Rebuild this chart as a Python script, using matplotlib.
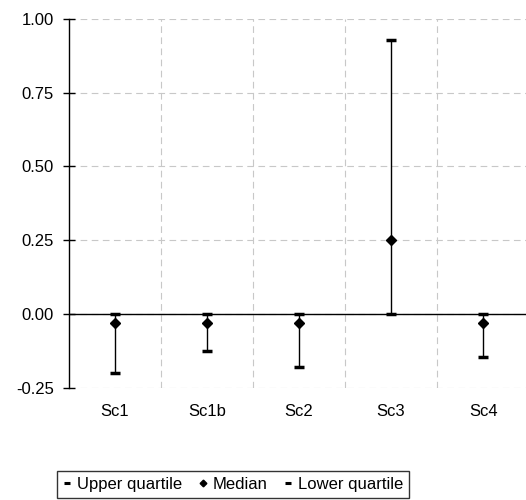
import numpy as np
import matplotlib.pyplot as plt
from matplotlib.lines import Line2D
from matplotlib.ticker import FixedLocator

plt.rcParams['font.family'] = ['Liberation Sans', 'DejaVu Sans']

scenarios = ['Sc1', 'Sc1b', 'Sc2', 'Sc3', 'Sc4']
upper_q = [0.00, 0.00, 0.00, 0.93, 0.00]
median = [-0.03, -0.03, -0.03, 0.25, -0.03]
lower_q = [-0.20, -0.125, -0.18, 0.00, -0.145]

x = np.arange(len(scenarios))

fig = plt.figure(figsize=(5.26, 5.0), dpi=100)
ax = fig.add_axes([0.131, 0.2246, 0.875, 0.7374])

# grid first so it sits under the marks
ax.set_axisbelow(True)
ax.yaxis.grid(True, color='#c8c8c8', linestyle=(0, (6, 4)), linewidth=0.8)
ax.xaxis.set_minor_locator(FixedLocator(x[:-1] + 0.5))
ax.xaxis.grid(True, which='minor', color='#c8c8c8', linestyle=(0, (6, 4)), linewidth=0.8)

# zero line acts as the category axis
ax.axhline(0, color='black', linewidth=1.0, zorder=2)

ax.vlines(x, lower_q, upper_q, color='black', linewidth=1.0, zorder=3)
ax.plot(x, upper_q, linestyle='none', marker='_', markersize=7.5, mew=2.5,
        color='black', zorder=4)
ax.plot(x, median, linestyle='none', marker='D', markersize=5.2,
        color='black', zorder=5)
ax.plot(x, lower_q, linestyle='none', marker='_', markersize=7.5, mew=2.5,
        color='black', zorder=4)

ax.set_xlim(-0.5, 4.5)
ax.set_ylim(-0.25, 1.0)
ax.set_yticks([-0.25, 0.0, 0.25, 0.5, 0.75, 1.0])
ax.set_yticklabels(['%.2f' % v for v in [-0.25, 0.0, 0.25, 0.5, 0.75, 1.0]])
ax.set_xticks(x)
ax.set_xticklabels(scenarios)

ax.tick_params(axis='y', direction='inout', length=8, width=1, labelsize=12, pad=7)
ax.tick_params(axis='x', which='both', length=0, labelsize=12, pad=12)

for side in ['top', 'right', 'bottom']:
    ax.spines[side].set_visible(False)
ax.spines['left'].set_linewidth(1.0)

# smaller markers in the legend, like the original
handles = [
    Line2D([], [], linestyle='none', marker='_', markersize=5, mew=2.2, color='black'),
    Line2D([], [], linestyle='none', marker='D', markersize=3.4, color='black'),
    Line2D([], [], linestyle='none', marker='_', markersize=5, mew=2.2, color='black'),
]
labels = ['Upper quartile', 'Median', 'Lower quartile']
leg = fig.legend(handles, labels, loc='upper center', bbox_to_anchor=(0.443, 0.058), ncol=3,
                 frameon=True, fancybox=False, edgecolor='black',
                 fontsize=12, handlelength=0.5, handletextpad=0.35,
                 columnspacing=1.0, borderpad=0.35, borderaxespad=0)
leg.get_frame().set_linewidth(1.0)

fig.savefig('out.png', dpi=100)
